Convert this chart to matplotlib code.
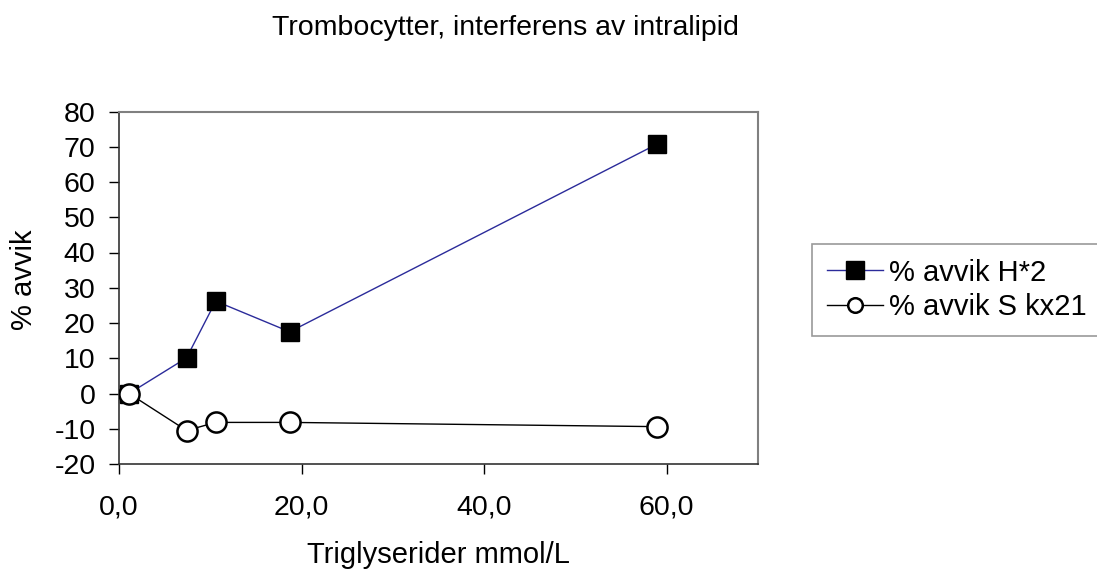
import matplotlib
matplotlib.use("Agg")
import matplotlib.pyplot as plt
from matplotlib.ticker import FuncFormatter

# Data
trig = [1.1, 7.4, 10.6, 18.7, 58.9]
avvik_h2 = [0, 10.1, 26.2, 17.5, 70.7]
avvik_kx21 = [0, -10.5, -8.2, -8.2, -9.4]

x_ticks = [0, 20, 40, 60]
y_ticks = list(range(-20, 81, 10))

plt.rcParams["font.family"] = ["Liberation Sans", "DejaVu Sans"]
plt.rcParams["axes.unicode_minus"] = False

W, H = 1097, 577
fig = plt.figure(figsize=(W / 100, H / 100), dpi=100)
ax = fig.add_axes([119 / W, 1 - 464 / H, 639 / W, 352.5 / H])

ax.plot(trig, avvik_h2, color="#2b2b9a", lw=1.0, marker="s", ms=13.5,
        mfc="black", mec="black", mew=1, label="% avvik H*2", zorder=3)
ax.plot(trig, avvik_kx21, color="black", lw=1.0, marker="o", ms=14.5,
        mfc="white", mec="black", mew=1.8, label="% avvik S kx21", zorder=4)

ax.set_xlim(0, 70)
ax.set_ylim(-20, 80)
ax.set_xticks(x_ticks)
ax.set_yticks(y_ticks)
ax.xaxis.set_major_formatter(FuncFormatter(lambda v, p: f"{v:.1f}".replace(".", ",")))
ax.tick_params(direction="out", length=7, width=1, labelsize=20.5)
ax.tick_params(axis="x", pad=15)
ax.tick_params(axis="y", pad=10)

for side in ("top", "right"):
    ax.spines[side].set_color("#808080")
    ax.spines[side].set_linewidth(1.5)
for side in ("left", "bottom"):
    ax.spines[side].set_color("#333333")
    ax.spines[side].set_linewidth(1.2)

ax.set_xlabel("Triglyserider mmol/L", fontsize=21)
ax.xaxis.set_label_coords(0.5, -0.218)
fig.text(24 / W, 1 - 280 / H, "% avvik", fontsize=21, rotation=90,
         ha="center", va="center")
fig.text(505 / W, 1 - 35 / H, "Trombocytter, interferens av intralipid",
         fontsize=20.5, ha="center", va="baseline")

leg = ax.legend(loc="upper left", bbox_to_anchor=(812 / W, 1 - 244 / H),
                bbox_transform=fig.transFigure, borderaxespad=0, fontsize=21,
                frameon=True, fancybox=False, edgecolor="#808080",
                handlelength=1.95, borderpad=0.5,
                handletextpad=0.2, labelspacing=0.22)
leg.get_frame().set_linewidth(1.2)
leg.legend_handles[1].set_markersize(10.5)

fig.savefig("out.png", dpi=100)
